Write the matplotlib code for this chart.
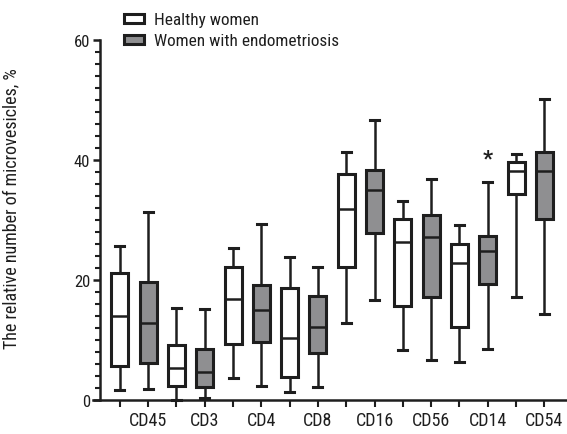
import matplotlib
matplotlib.use('Agg')
import matplotlib.pyplot as plt
from matplotlib import font_manager
from matplotlib.patches import Patch
from matplotlib.ticker import MultipleLocator

# Markers and the five-number summaries
markers = ['CD45', 'CD3', 'CD4', 'CD8', 'CD16', 'CD56', 'CD14', 'CD54']

healthy_lo = [1.6, 0.0, 3.6, 1.3, 12.8, 8.4, 6.4, 17.2]
healthy_q1 = [5.7, 2.4, 9.3, 3.8, 22.1, 15.7, 12.1, 34.3]
healthy_med = [14.05, 5.4, 16.8, 10.4, 31.8, 26.4, 22.8, 38.1]
healthy_q3 = [21.2, 9.1, 22.2, 18.7, 37.7, 30.2, 26.0, 39.7]
healthy_hi = [25.6, 15.4, 25.3, 23.8, 41.4, 33.2, 29.2, 41.0]

endo_lo = [1.9, 0.3, 2.3, 2.1, 16.7, 6.7, 8.5, 14.3]
endo_q1 = [6.1, 2.1, 9.7, 7.8, 27.8, 17.1, 19.4, 30.1]
endo_med = [12.9, 4.6, 15.0, 12.1, 35.0, 27.2, 24.8, 38.1]
endo_q3 = [19.7, 8.5, 19.2, 17.3, 38.3, 30.8, 27.3, 41.3]
endo_hi = [31.4, 15.1, 29.4, 22.1, 46.7, 36.8, 36.3, 50.2]

# significant difference marked on CD14
star_marker = 'CD14'
star_value = 40.2

names = {f.name for f in font_manager.fontManager.ttflist}
family = 'Roboto Condensed' if 'Roboto Condensed' in names else 'Liberation Sans'
plt.rcParams['font.family'] = family

ink = '#1e1e1e'
gray = '#8f8f91'


def make_stats(lo, q1, med, q3, hi):
    return [dict(whislo=a, q1=b, med=c, q3=d, whishi=e, fliers=[])
            for a, b, c, d, e in zip(lo, q1, med, q3, hi)]


fig = plt.figure(figsize=(5.67, 4.35), dpi=100)
ax = fig.add_axes([0.164, 0.078, 0.836, 0.828])

pos_h = [2 * i + 1 for i in range(len(markers))]
pos_e = [2 * i + 2 for i in range(len(markers))]

common = dict(widths=0.6, showfliers=False, patch_artist=True,
              whiskerprops=dict(color=ink, linewidth=1.8),
              capprops=dict(color=ink, linewidth=2.2),
              medianprops=dict(color=ink, linewidth=1.8),
              manage_ticks=False)

bh = ax.bxp(make_stats(healthy_lo, healthy_q1, healthy_med, healthy_q3, healthy_hi),
            positions=pos_h, boxprops=dict(facecolor='white', edgecolor=ink, linewidth=2.2),
            **common)
be = ax.bxp(make_stats(endo_lo, endo_q1, endo_med, endo_q3, endo_hi),
            positions=pos_e, boxprops=dict(facecolor=gray, edgecolor=ink, linewidth=2.2),
            **common)
for c in bh['caps'] + be['caps']:
    xd = c.get_xdata()
    mid = (xd[0] + xd[1]) / 2
    c.set_xdata([mid - 0.16, mid + 0.16])
for art in bh['whiskers'] + be['whiskers'] + bh['caps'] + be['caps']:
    art.set_clip_on(False)

# asterisk above CD14 endometriosis box
k = markers.index(star_marker)
ax.text(pos_e[k], star_value, '*', ha='center', va='center', fontsize=16,
        fontweight='bold', color=ink)

ax.set_xlim(0.05, 16.8)
ax.set_ylim(0, 60)
ax.spines['left'].set_position(('data', 0.29))
ax.spines['left'].set_bounds(0, 60)
for s in ['top', 'right']:
    ax.spines[s].set_visible(False)
for s in ['left', 'bottom']:
    ax.spines[s].set_linewidth(1.8)
    ax.spines[s].set_color(ink)

ax.yaxis.set_major_locator(MultipleLocator(20))
ax.yaxis.set_minor_locator(MultipleLocator(2))
ax.tick_params(axis='y', which='major', length=5, width=1.8, color=ink,
               labelsize=12, pad=2, labelcolor=ink)
ax.tick_params(axis='y', which='minor', length=3.5, width=1.5, color=ink)

ticks = sorted(pos_h + pos_e)
ax.set_xticks(ticks)
ax.set_xticklabels(['' if t % 2 else markers[(t - 1) // 2] for t in ticks])
ax.tick_params(axis='x', length=5, width=1.5, color=ink, labelsize=13, pad=3,
               labelcolor=ink)

ax.set_ylabel('The relative number of microvesicles, %', fontsize=13, color=ink)
ax.yaxis.set_label_coords(-0.154, 0.533)

handles = [Patch(facecolor='white', edgecolor=ink, linewidth=2.2),
           Patch(facecolor=gray, edgecolor=ink, linewidth=2.2)]
fig.legend(handles, ['Healthy women', 'Women with endometriosis'],
           loc='upper left', bbox_to_anchor=(0.201, 0.993), frameon=False,
           fontsize=12.4, handlelength=1.15, handleheight=0.45,
           handletextpad=0.55, labelspacing=0.35, borderaxespad=0.2,
           labelcolor=ink)

fig.savefig('out.png', dpi=100)
